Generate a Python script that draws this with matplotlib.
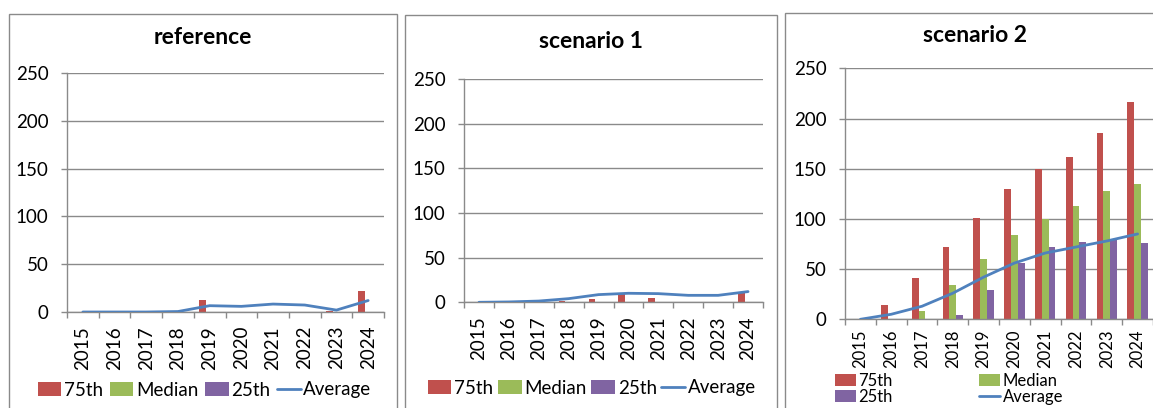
import numpy as np
import matplotlib.pyplot as plt
from matplotlib.patches import Rectangle

plt.rcParams['font.family'] = ['Lato', 'DejaVu Sans']

years = ['2015', '2016', '2017', '2018', '2019', '2020', '2021', '2022', '2023', '2024']
series_names = ['75th', 'Median', '25th', 'Average']

# reference
ref_p75 = [0, 0, 0, 0, 13, 0, 0, 0, 1, 22]
ref_med = [0, 0, 0, 0, 0, 0, 0, 0, 0, 0]
ref_p25 = [0, 0, 0, 0, 0, 0, 0, 0, 0, 0]
ref_avg = [0, 0, 0, 0.5, 6.6, 5.9, 8.3, 7.3, 2, 12]

# scenario 1
s1_p75 = [0, 0, 0, 1, 4, 9, 5, 0, 0, 11]
s1_med = [0, 0, 0, 0, 0, 0, 0, 0, 0, 0]
s1_p25 = [0, 0, 0, 0, 0, 0, 0, 0, 0, 0]
s1_avg = [0, 0.4, 1.4, 4.1, 8.6, 10.1, 9.7, 7.8, 7.8, 12]

# scenario 2
s2_p75 = [0, 14, 41, 72, 101, 130, 150, 162, 186, 216]
s2_med = [0, 0, 8, 34, 60, 84, 100, 113, 128, 135]
s2_p25 = [0, 0, 0, 4, 29, 56, 72, 77, 80, 76]
s2_avg = [0, 5, 13, 26, 42, 56, 66, 72, 78, 85]

RED = '#C0504D'
GREEN = '#9BBB59'
PURPLE = '#8064A2'
BLUE = '#4F81BD'
GRAY = '#8a8a8a'

W, H = 1153, 408
fig = plt.figure(figsize=(W / 100, H / 100), dpi=100)


def px_rect(left, top, right, bottom):
    return [left / W, (H - bottom) / H, (right - left) / W, (bottom - top) / H]


def panel(plot_box, frame_box, title, title_xy, p75, med, p25, avg,
          leg_xy, ncol, colspace, xsize=13.5, xpad=10, legsize=13.5):
    # chart frame
    l, t, r, b = frame_box
    fig.patches.append(Rectangle((l / W, (H - b) / H), (r - l) / W, (b - t) / H,
                                 transform=fig.transFigure, fill=False,
                                 edgecolor=GRAY, lw=1.0))
    fig.text(title_xy[0] / W, 1 - title_xy[1] / H, title, ha='center',
             va='center', fontsize=16.5, fontweight='bold')

    ax = fig.add_axes(px_rect(*plot_box))
    x = np.arange(len(years))
    bw = 1 / 4.5
    b1 = ax.bar(x - bw, p75, bw, color=RED, zorder=2)
    b2 = ax.bar(x, med, bw, color=GREEN, zorder=2)
    b3 = ax.bar(x + bw, p25, bw, color=PURPLE, zorder=2)
    ln, = ax.plot(x, avg, color=BLUE, lw=2.0, zorder=3, solid_capstyle='round')

    ax.set_xlim(-0.5, len(years) - 0.5)
    ax.set_ylim(0, 250)
    ax.set_yticks(range(0, 251, 50))
    ax.yaxis.grid(True, color=GRAY, lw=1.0)
    ax.set_axisbelow(True)

    ax.set_xticks(np.arange(-0.5, len(years), 1))
    ax.set_xticklabels([])
    ax.set_xticks(x, minor=True)
    ax.set_xticklabels(years, minor=True, rotation=90)
    ax.tick_params(axis='x', which='major', length=4.3, color=GRAY, width=1.0)
    ax.tick_params(axis='x', which='minor', length=0, pad=xpad, labelsize=xsize)
    ax.tick_params(axis='y', length=4.3, color=GRAY, width=1.0, pad=9,
                   labelsize=13.5)

    for s in ('top', 'right'):
        ax.spines[s].set_visible(False)
    for s in ('left', 'bottom'):
        ax.spines[s].set_color(GRAY)
        ax.spines[s].set_linewidth(1.0)

    handles = [b1, b2, b3, ln]
    labels = list(series_names)
    if ncol == 2:
        handles = [b1, b3, b2, ln]
        labels = [labels[0], labels[2], labels[1], labels[3]]
    ax.legend(handles, labels, loc='center left',
              bbox_to_anchor=(leg_xy[0] / W, 1 - leg_xy[1] / H),
              bbox_transform=fig.transFigure, frameon=False, ncol=ncol,
              fontsize=legsize, handlelength=1.25, handleheight=0.7,
              handletextpad=0.15, columnspacing=colspace, borderpad=0,
              borderaxespad=0, labelspacing=0.0)
    return ax


panel((67, 73, 384, 312), (9, 14, 397, 430), 'reference', (203, 38),
      ref_p75, ref_med, ref_p25, ref_avg, (38, 390), 4, 0.35)
panel((464, 79, 763, 302.3), (405, 15, 777, 430), 'scenario 1', (591, 42),
      s1_p75, s1_med, s1_p25, s1_avg, (428, 388), 4, 0.25)
panel((845, 68.3, 1153, 319.3), (785, 13, 1170, 430), 'scenario 2', (975, 36),
      s2_p75, s2_med, s2_p25, s2_avg, (835, 389), 2, 5.2,
      xsize=12, xpad=7, legsize=12)

fig.savefig('out.png', dpi=100)
